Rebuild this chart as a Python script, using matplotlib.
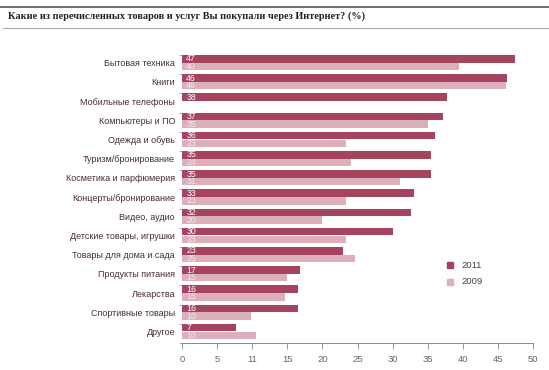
import matplotlib
matplotlib.use("Agg")
import matplotlib.pyplot as plt
import numpy as np
from matplotlib.lines import Line2D
from matplotlib.patches import Rectangle

title = "Какие из перечисленных товаров и услуг Вы покупали через Интернет? (%)"
categories = ["Бытовая техника", "Книги", "Мобильные телефоны", "Компьютеры и ПО",
              "Одежда и обувь", "Туризм/бронирование", "Косметика и парфюмерия",
              "Концерты/бронирование", "Видео, аудио", "Детские товары, игрушки",
              "Товары для дома и сада", "Продукты питания", "Лекарства",
              "Спортивные товары", "Другое"]
values_2011 = [47.4, 46.3, 37.7, 37.2, 36.1, 35.5, 35.5, 33.0, 32.6, 30.1, 22.9, 16.8, 16.5, 16.5, 7.7]
values_2009 = [39.5, 46.2, None, 35.0, 23.3, 24.1, 31.1, 23.4, 20.0, 23.3, 24.6, 15.0, 14.7, 9.9, 10.6]
labels_2011 = ["47", "46", "38", "37", "36", "35", "35", "33", "32", "30", "23", "17", "16", "16", "7"]
labels_2009 = ["40", "46", "", "35", "23", "24", "31", "23", "20", "23", "25", "15", "15", "10", "10"]
xtick_values = [0, 5, 10, 15, 20, 25, 30, 35, 40, 45, 50]
xtick_labels = ["0", "5", "11", "15", "20", "25", "30", "35", "40", "45", "50"]
series_names = ["2011", "2009"]

c_dark = "#a6445f"
c_light = "#dbb0bc"
c_text = "#4a2a3a"
sans = "Liberation Sans"

W, H = 549, 370
fig = plt.figure(figsize=(W / 100, H / 100), dpi=100)

ax = fig.add_axes([182 / W, 1 - 343 / H, (533 - 182) / W, (343 - 55) / H])
n = len(categories)
y = np.arange(n)
bh = 0.39
v09 = [v if v is not None else 0 for v in values_2009]
ax.barh(y - 0.2, values_2011, height=bh, color=c_dark, linewidth=0)
ax.barh(y + 0.2, v09, height=bh, color=c_light, linewidth=0)

for i in range(n):
    ax.text(0.6, y[i] - 0.2, labels_2011[i], color="white", fontsize=6.3,
            va="center", ha="left", family=sans)
    if labels_2009[i]:
        ax.text(0.6, y[i] + 0.2, labels_2009[i], color="#f4e6ea", fontsize=6.3,
                va="center", ha="left", family=sans)

ax.set_xlim(0, 50)
ax.set_ylim(n - 0.6, -0.4)
ax.set_yticks(y)
ax.set_yticklabels(categories, fontsize=6.5, color=c_text, family=sans)
ax.tick_params(axis="y", length=0, pad=5)
ax.set_yticks(np.arange(n + 1) - 0.5 + 0.1, minor=True)
ax.tick_params(axis="y", which="minor", length=2, color="#999999", width=0.6)
ax.set_xticks(xtick_values)
ax.set_xticklabels(xtick_labels, fontsize=6.8, color="#666666", family=sans)
ax.tick_params(axis="x", length=4, color="#888888", width=0.6, pad=5, direction="out")
for s in ["top", "right", "left"]:
    ax.spines[s].set_visible(False)
ax.spines["bottom"].set_color("#888888")
ax.spines["bottom"].set_linewidth(0.7)

# legend
lx, ly1, ly2 = 450 / W, 1 - 265 / H, 1 - 282 / H
for yy, col, name in [(ly1, c_dark, series_names[0]), (ly2, c_light, series_names[1])]:
    fig.patches.append(Rectangle((lx - 3 / W, yy - 3 / H), 6 / W, 6 / H, color=col,
                                 transform=fig.transFigure, figure=fig))
    fig.text(lx + 11 / W, yy, name, fontsize=6.8, color="#444444", va="center", ha="left",
             family=sans)

# title and rules
fig.lines.append(Line2D([0, 1], [1 - 7 / H, 1 - 7 / H], color="#555555", linewidth=1.2,
                        transform=fig.transFigure))
fig.lines.append(Line2D([3 / W, 1], [1 - 28 / H, 1 - 28 / H], color="#aaaaaa", linewidth=0.8,
                        transform=fig.transFigure))
fig.text(8 / W, 1 - 16 / H, title, fontsize=7.4, fontweight="bold", color="#222222",
         family="Liberation Serif", va="center", ha="left")

fig.savefig("out.png", dpi=100)
